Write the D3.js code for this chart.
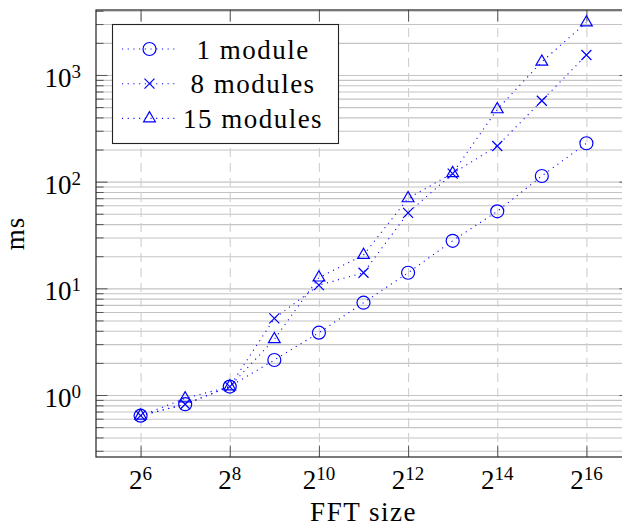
<!DOCTYPE html>
<html>
<head>
<meta charset="utf-8">
<script src="https://cdn.jsdelivr.net/npm/d3@7"></script>
<style>
  html, body { margin: 0; padding: 0; background: #fff; }
  svg { display: block; }
</style>
</head>
<body>
<svg id="chart" width="622" height="528"></svg>
<script>
// FFT sizes as powers of two, and timings in milliseconds
const fftExponents = [6, 7, 8, 9, 10, 11, 12, 13, 14, 15, 16];
const oneModule = [0.64, 0.82, 1.2, 2.13, 3.84, 7.33, 14.0, 27.9, 52.7, 113, 229];
const eightModules = [0.64, 0.82, 1.2, 5.23, 10.7, 14.0, 51, 119, 216, 573, 1540];
const fifteenModules = [0.64, 0.93, 1.2, 3.33, 12.6, 20.5, 69.7, 120, 476, 1330, 3100];
const seriesNames = ["1 module", "8 modules", "15 modules"];
const seriesMarks = ["circle", "cross", "triangle"];
const xTickExponents = [6, 8, 10, 12, 14, 16];
const yTickExponents = [0, 1, 2, 3];

const serif = "'Liberation Serif', 'DejaVu Serif', serif";
const svg = d3.select("#chart");
const pLeft = 96, pRight = 631, pTop = 10, pBottom = 457;
const blue = "#0000ff";

const x = d3.scaleLog().base(2).domain([2 ** 5, 2 ** 17]).range([pLeft, pRight]);
const y = d3.scaleLog().base(10).domain([0.2624, 4064]).range([pBottom, pTop]);

const minorY = [];
for (let d = -1; d <= 3; d++) {
  for (let m = 2; m <= 9; m++) {
    const v = m * 10 ** d;
    if (v > y.domain()[0] && v < y.domain()[1]) minorY.push(v);
  }
}
const majorY = yTickExponents.map(e => 10 ** e);
const majorX = xTickExponents.map(e => 2 ** e);

const plot = svg.append("g");
plot.append("clipPath").attr("id", "clip")
  .append("rect").attr("x", pLeft).attr("y", pTop).attr("width", pRight - pLeft).attr("height", pBottom - pTop);

// horizontal grid (major and minor, solid)
plot.append("g")
  .attr("transform", `translate(${pLeft},0)`)
  .call(d3.axisLeft(y).tickValues(majorY.concat(minorY)).tickSize(-(pRight - pLeft)).tickFormat(""))
  .call(g => g.select(".domain").remove())
  .call(g => g.selectAll(".tick line").attr("stroke", "#c4c4c4").attr("stroke-width", 1.1));

// vertical grid (dashed)
plot.append("g")
  .attr("transform", `translate(0,${pBottom})`)
  .call(d3.axisBottom(x).tickValues(majorX).tickSize(-(pBottom - pTop)).tickFormat(""))
  .call(g => g.select(".domain").remove())
  .call(g => g.selectAll(".tick line").attr("stroke", "#cfcfcf").attr("stroke-width", 1.1)
    .attr("stroke-dasharray", "9,6"));

// inward ticks on all four sides
const tickColor = "#555";
function styleTicks(g) {
  g.select(".domain").remove();
  g.selectAll(".tick line").attr("stroke", tickColor).attr("stroke-width", 1);
}
plot.append("g").attr("transform", `translate(${pLeft},0)`)
  .call(d3.axisLeft(y).tickValues(majorY).tickSize(-11.5).tickFormat("")).call(styleTicks);
plot.append("g").attr("transform", `translate(${pLeft},0)`)
  .call(d3.axisLeft(y).tickValues(minorY).tickSize(-7.6).tickFormat("")).call(styleTicks);
plot.append("g").attr("transform", `translate(${pRight},0)`)
  .call(d3.axisRight(y).tickValues(majorY).tickSize(-11.5).tickFormat("")).call(styleTicks);
plot.append("g").attr("transform", `translate(${pRight},0)`)
  .call(d3.axisRight(y).tickValues(minorY).tickSize(-7.6).tickFormat("")).call(styleTicks);
plot.append("g").attr("transform", `translate(0,${pBottom})`)
  .call(d3.axisBottom(x).tickValues(majorX).tickSize(-11.5).tickFormat("")).call(styleTicks);
plot.append("g").attr("transform", `translate(0,${pTop})`)
  .call(d3.axisTop(x).tickValues(majorX).tickSize(-11.5).tickFormat("")).call(styleTicks);

// frame
svg.append("rect").attr("x", pLeft).attr("y", pTop).attr("width", pRight - pLeft).attr("height", pBottom - pTop)
  .attr("fill", "none").attr("stroke", "#222").attr("stroke-width", 1.2);

// tick labels with superscript exponents
const xLabels = svg.append("g").attr("font-family", serif).attr("fill", "#000");
xTickExponents.forEach(e => {
  const t = xLabels.append("text").attr("x", x(2 ** e)).attr("y", 489)
    .attr("text-anchor", "middle").attr("font-size", 27);
  t.append("tspan").text("2");
  t.append("tspan").attr("font-size", 19).attr("dy", -9).text(e);
});
const yLabels = svg.append("g").attr("font-family", serif).attr("fill", "#000");
yTickExponents.forEach(e => {
  const t = yLabels.append("text").attr("x", 81).attr("y", y(10 ** e) + 12)
    .attr("text-anchor", "end").attr("font-size", 27);
  t.append("tspan").text("10");
  t.append("tspan").attr("font-size", 19).attr("dy", -9).text(e);
});

// axis titles
svg.append("text").attr("font-family", serif).attr("x", (pLeft + pRight) / 2).attr("y", 521)
  .attr("text-anchor", "middle").attr("font-size", 27).attr("letter-spacing", 1.5).text("FFT size");
svg.append("text").attr("font-family", serif)
  .attr("transform", `translate(24,${(pTop + pBottom) / 2}) rotate(-90)`)
  .attr("text-anchor", "middle").attr("font-size", 27).attr("letter-spacing", 1).text("ms");

// markers
function drawMark(g, kind, cx, cy) {
  if (kind === "circle") {
    g.append("circle").attr("cx", cx).attr("cy", cy).attr("r", 6.5)
      .attr("fill", "none").attr("stroke", blue).attr("stroke-width", 1.2);
  } else if (kind === "cross") {
    const s = 5;
    g.append("path").attr("d", `M${cx - s},${cy - s}L${cx + s},${cy + s}M${cx - s},${cy + s}L${cx + s},${cy - s}`)
      .attr("fill", "none").attr("stroke", blue).attr("stroke-width", 1.2);
  } else {
    const r = 6.8;
    const pts = [[cx, cy - r], [cx - 0.866 * r, cy + 0.5 * r], [cx + 0.866 * r, cy + 0.5 * r]];
    g.append("path").attr("d", "M" + pts.join("L") + "Z")
      .attr("fill", "none").attr("stroke", blue).attr("stroke-width", 1.2);
  }
}

const allSeries = [oneModule, eightModules, fifteenModules];
const line = d3.line().x(d => x(2 ** d[0])).y(d => y(d[1]));
const dataLayer = svg.append("g").attr("clip-path", "url(#clip)");
allSeries.forEach((vals, i) => {
  const pts = fftExponents.map((e, j) => [e, vals[j]]);
  dataLayer.append("path").attr("d", line(pts)).attr("fill", "none")
    .attr("stroke", blue).attr("stroke-width", 1.1).attr("stroke-dasharray", "1.1,4.6");
  const mg = dataLayer.append("g");
  pts.forEach(p => drawMark(mg, seriesMarks[i], x(2 ** p[0]), y(p[1])));
});

// legend
const lg = svg.append("g");
lg.append("rect").attr("x", 112.5).attr("y", 24.5).attr("width", 226).attr("height", 119)
  .attr("fill", "#fff").attr("stroke", "#222").attr("stroke-width", 1.1);
seriesNames.forEach((name, i) => {
  const cy = 49 + i * 34.7;
  lg.append("line").attr("x1", 122).attr("x2", 177).attr("y1", cy).attr("y2", cy)
    .attr("stroke", blue).attr("stroke-width", 1.1).attr("stroke-dasharray", "1.1,4.6");
  drawMark(lg, seriesMarks[i], 149.5, cy);
  lg.append("text").attr("font-family", serif).attr("fill", "#000")
    .attr("x", 253).attr("y", cy + 9.5).attr("text-anchor", "middle")
    .attr("font-size", 27).attr("letter-spacing", 1.5).text(name);
});
</script>
</body>
</html>
